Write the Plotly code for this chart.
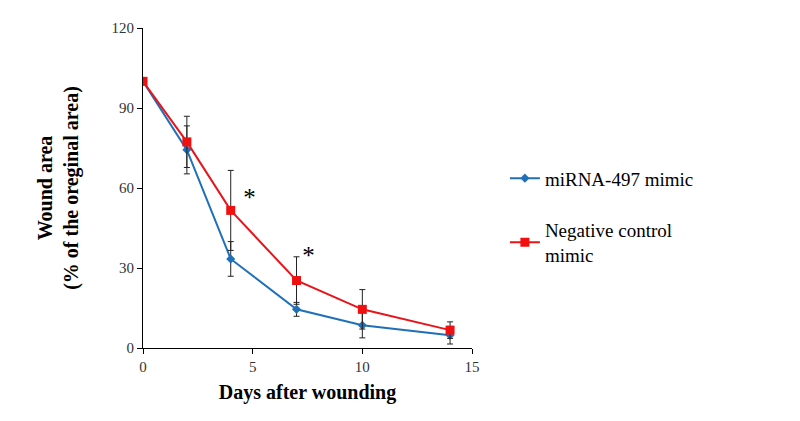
import plotly.graph_objects as go

days = [0, 2, 4, 7, 10, 14]
mirna_values = [100, 74.3, 33.4, 14.5, 8.5, 4.8]
mirna_err = [0, 9.0, 6.5, 2.6, 4.7, 3.3]
control_values = [100, 77.3, 51.6, 25.3, 14.5, 6.7]
control_err = [0, 9.6, 15.0, 8.9, 7.4, 3.1]
star_x = [4.85, 7.55]
star_y = [55.5, 34.0]
x_ticks = [0, 5, 10, 15]
y_ticks = [0, 30, 60, 90, 120]

serif = "Liberation Serif, Times New Roman, serif"

fig = go.Figure()
fig.add_trace(go.Scatter(
    x=days, y=mirna_values, mode="lines+markers", name="miRNA-497 mimic",
    line=dict(color="#1f70b8", width=2),
    marker=dict(symbol="diamond", size=7, color="#1f70b8"),
    error_y=dict(type="data", array=mirna_err, visible=True, color="#222", thickness=1, width=3),
    legendgroup="a",
))
fig.add_trace(go.Scatter(
    x=days, y=control_values, mode="lines+markers", name="Negative control<br>mimic",
    line=dict(color="#e8141b", width=2),
    marker=dict(symbol="square", size=9, color="#f01010"),
    error_y=dict(type="data", array=control_err, visible=True, color="#222", thickness=1, width=3),
    legendgroup="b",
))
fig.add_trace(go.Scatter(
    x=star_x, y=star_y, mode="text", text=["*", "*"], showlegend=False,
    textfont=dict(family=serif, size=25, color="black"), hoverinfo="skip",
))

fig.update_layout(
    width=800, height=421,
    margin=dict(l=135, r=336, t=17, b=81),
    paper_bgcolor="white", plot_bgcolor="white",
    font=dict(family=serif, color="black"),
    showlegend=True,
    legend=dict(x=1.10, y=0.41, xanchor="left", yanchor="middle",
                font=dict(family=serif, size=19, color="black"),
                traceorder="grouped", tracegroupgap=24, itemwidth=30),
    xaxis=dict(range=[0, 15], tickvals=x_ticks, showgrid=False, zeroline=False,
               showline=True, linecolor="black", linewidth=1,
               ticks="outside", ticklen=5, tickcolor="black",
               tickfont=dict(family=serif, size=15, color="#333"),
               title=dict(text="<b>Days after wounding</b>", font=dict(family=serif, size=20), standoff=10)),
    yaxis=dict(range=[0, 120], tickvals=y_ticks, showgrid=False, zeroline=False,
               showline=True, linecolor="black", linewidth=1,
               ticks="outside", ticklen=5, tickcolor="black",
               tickfont=dict(family=serif, size=15, color="#333"),
               title=dict(text="<b>Wound area<br>(% of the oreginal area)</b>", font=dict(family=serif, size=20), standoff=27)),
)

fig.write_html("out.html")
